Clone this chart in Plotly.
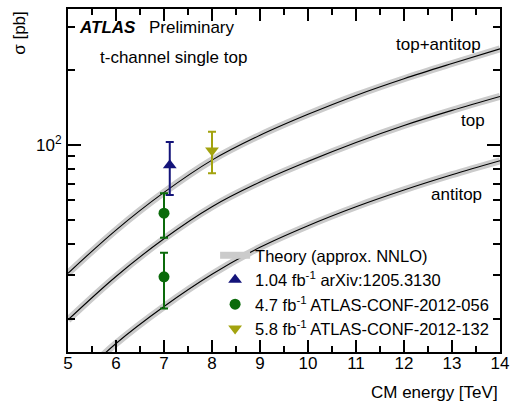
import numpy as np
import plotly.graph_objects as go

# Theory curves (approx. NNLO)
energy = [5, 6, 7, 8, 9, 10, 11, 12, 13, 14]
sigma_total = [30.5, 45.5, 64.5, 87.0, 109.5, 133.0, 158.5, 185.0, 213.0, 244.0]
sigma_top = [19.8, 29.6, 42.0, 56.5, 71.0, 86.0, 102.5, 120.0, 138.0, 157.0]
sigma_antitop = [10.5, 15.9, 22.4, 30.2, 38.8, 47.4, 56.5, 66.0, 76.0, 86.5]

# Measurements
m1_x = [7.12]
m1_y = [83.0]
m1_up = [20.0]
m1_dn = [20.0]

m2_x = [7.0, 7.0]
m2_y = [53.2, 29.5]
m2_up = [10.8, 7.4]
m2_dn = [10.8, 7.5]

m3_x = [8.0]
m3_y = [95.1]
m3_up = [18.1]
m3_dn = [18.1]

y_minor = [20, 30, 40, 50, 60, 70, 80, 90, 200, 300]

FONT = "Liberation Sans, Arial, sans-serif"
BAND = "#cbcbcb"

fig = go.Figure()

curves = [sigma_total, sigma_top, sigma_antitop]
for i, c in enumerate(curves):
    fig.add_trace(go.Scatter(
        x=energy, y=c, mode="lines", line=dict(color=BAND, width=7, shape="spline"),
        name="Theory (approx. NNLO)", showlegend=(i == 0), legendrank=1, hoverinfo="skip"))
for c in curves:
    fig.add_trace(go.Scatter(
        x=energy, y=c, mode="lines", line=dict(color="black", width=1.1, shape="spline"),
        showlegend=False, hoverinfo="skip"))

fig.add_trace(go.Scatter(
    x=m1_x, y=m1_y, mode="markers", name="1.04 fb<sup>-1</sup> arXiv:1205.3130",
    marker=dict(symbol="triangle-up", size=12, color="#14147a"),
    error_y=dict(type="data", symmetric=False, array=m1_up, arrayminus=m1_dn,
                 color="#14147a", thickness=2, width=4), legendrank=2))
fig.add_trace(go.Scatter(
    x=m2_x, y=m2_y, mode="markers", name="4.7 fb<sup>-1</sup> ATLAS-CONF-2012-056",
    marker=dict(symbol="circle", size=11, color="#0b6b0b"),
    error_y=dict(type="data", symmetric=False, array=m2_up, arrayminus=m2_dn,
                 color="#0b6b0b", thickness=2, width=4), legendrank=3))
fig.add_trace(go.Scatter(
    x=m3_x, y=m3_y, mode="markers", name="5.8 fb<sup>-1</sup> ATLAS-CONF-2012-132",
    marker=dict(symbol="triangle-down", size=12, color="#a3a30f"),
    error_y=dict(type="data", symmetric=False, array=m3_up, arrayminus=m3_dn,
                 color="#a3a30f", thickness=2, width=4), legendrank=4))

L, R, T, B = 68, 9, 7, 54
W, H = 516, 406
pw, ph = W - L - R, H - T - B

def px(x):
    return (x - L) / pw

def py(y):
    return (H - B - y) / ph

annos = [
    dict(text="<b><i>ATLAS</i></b>", x=px(77), y=py(26), xanchor="left"),
    dict(text="Preliminary", x=px(148), y=py(26), xanchor="left"),
    dict(text="t-channel single top", x=px(98), y=py(56), xanchor="left"),
    dict(text="top+antitop", x=px(490), y=py(43), xanchor="right"),
    dict(text="top", x=px(494), y=py(119), xanchor="right"),
    dict(text="antitop", x=px(491), y=py(194), xanchor="right"),
    dict(text="CM energy [TeV]", x=1.0, y=py(393), xanchor="right"),
]
annotations = []
for a in annos:
    a.update(xref="paper", yref="paper", yanchor="middle", showarrow=False,
             font=dict(size=17, color="black", family=FONT))
    annotations.append(a)
annotations.append(dict(text="σ [pb]", textangle=-90, x=px(18), y=py(7), xref="paper",
                        yref="paper", xanchor="center", yanchor="top", showarrow=False,
                        font=dict(size=17, color="black", family=FONT)))

fig.update_layout(
    width=W, height=H,
    margin=dict(l=L, r=R, t=T, b=B),
    paper_bgcolor="white", plot_bgcolor="white",
    font=dict(family=FONT, size=17, color="black"),
    showlegend=True,
    legend=dict(x=px(501), y=py(346), xanchor="right", yanchor="bottom",
                bgcolor="rgba(0,0,0,0)", font=dict(size=16.5), itemwidth=30,
                tracegroupgap=0),
    annotations=annotations,
    xaxis=dict(range=[5, 14], tickmode="array", tickvals=list(range(5, 15)),
               ticks="inside", ticklen=12, tickwidth=1.5, tickcolor="black",
               showline=True, linewidth=2, linecolor="black", mirror="ticks",
               showgrid=False, zeroline=False, ticklabelstandoff=-5,
               ticklabeloverflow="allow",
               minor=dict(dtick=0.5, tick0=5, ticks="inside", ticklen=6, tickwidth=1.5,
                          tickcolor="black", showgrid=False)),
    yaxis=dict(type="log", range=[np.log10(14.7), np.log10(353)], tickmode="array",
               tickvals=[100], ticktext=["10<sup>2</sup>"],
               ticks="inside", ticklen=13, tickwidth=1.5, tickcolor="black",
               showline=True, linewidth=2, linecolor="black", mirror="ticks",
               showgrid=False, zeroline=False, ticklabelstandoff=1,
               ticklabeloverflow="allow",
               minor=dict(tickmode="array", tickvals=y_minor, ticks="inside", ticklen=7,
                          tickwidth=1.5, tickcolor="black", showgrid=False)),
)

fig.write_html("out.html", config={"displayModeBar": False},
               post_script="document.body.style.margin='0';document.body.style.overflow='hidden';")
